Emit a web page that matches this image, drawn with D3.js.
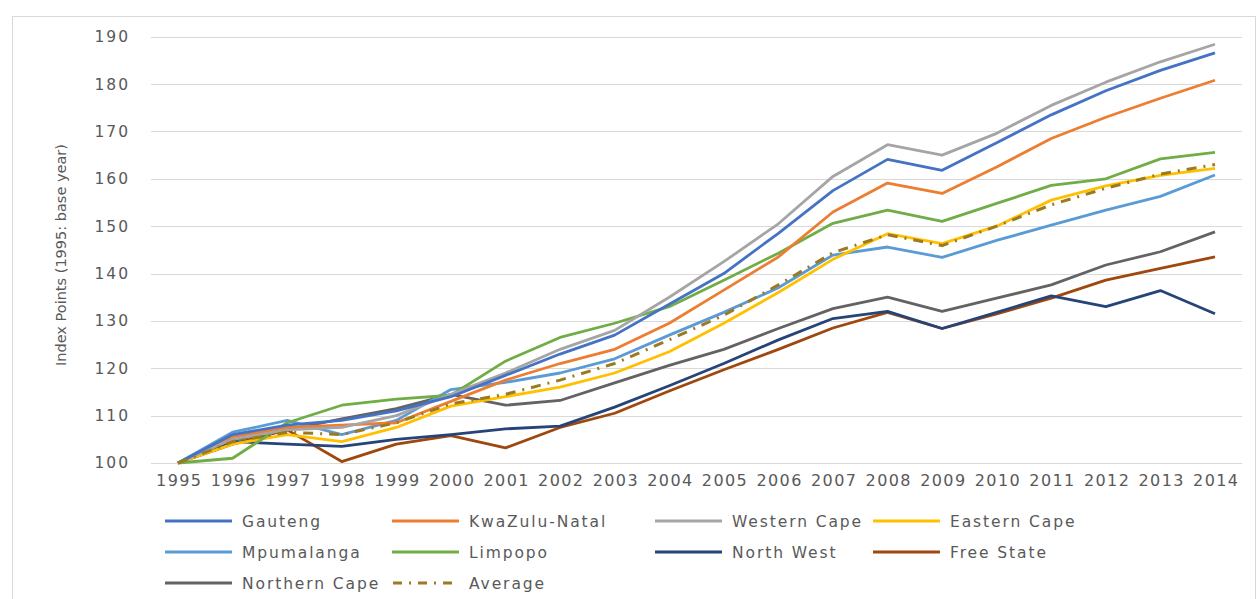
<!DOCTYPE html>
<html>
<head>
<meta charset="utf-8">
<script src="https://cdn.jsdelivr.net/npm/d3@7"></script>
<style>
  html, body { margin: 0; padding: 0; background: #ffffff; }
  svg { display: block; }
  text { font-family: "DejaVu Sans", sans-serif; fill: #595959; }
</style>
</head>
<body>
<svg id="chart" width="1260" height="599"></svg>
<script>
// Provincial index, 1995 = 100
const years = [1995, 1996, 1997, 1998, 1999, 2000, 2001, 2002, 2003, 2004,
               2005, 2006, 2007, 2008, 2009, 2010, 2011, 2012, 2013, 2014];
const yTicks = [100, 110, 120, 130, 140, 150, 160, 170, 180, 190];

const gauteng      = [100, 106, 108, 109, 111, 114, 118.5, 123, 127, 133.5, 140, 148.5, 157.5, 164.1, 161.8, 167.6, 173.5, 178.6, 182.9, 186.6];
const kwazuluNatal = [100, 105.5, 107.5, 108, 108.5, 113, 117.5, 121, 124, 129.5, 136.5, 143.5, 153, 159.1, 156.9, 162.5, 168.5, 173, 177, 180.8];
const westernCape  = [100, 105, 107, 107.5, 110, 114.5, 119, 124, 128, 135, 142.5, 150.5, 160.5, 167.2, 165, 169.6, 175.5, 180.4, 184.7, 188.4];
const easternCape  = [100, 104, 106, 104.5, 107.5, 112, 114, 116, 119, 123.5, 129.5, 136, 143, 148.4, 146.3, 150, 155.5, 158.5, 160.7, 162.2];
const mpumalanga   = [100, 106.5, 109, 106, 109, 115.5, 117, 119, 122, 127, 131.8, 137, 143.9, 145.6, 143.4, 147, 150.2, 153.4, 156.3, 160.8];
const limpopo      = [100, 101, 108.5, 112.2, 113.5, 114.3, 121.5, 126.5, 129.5, 133, 138.6, 144.3, 150.6, 153.4, 151, 154.8, 158.6, 160, 164.2, 165.6];
const northWest    = [100, 104.5, 104, 103.5, 105, 106, 107.2, 107.8, 111.8, 116.3, 121, 126, 130.5, 132, 128.4, 131.8, 135.3, 133, 136.4, 131.5];
const freeState    = [100, 104, 107, 100.3, 104, 105.8, 103.2, 107.5, 110.5, 115.2, 119.7, 124, 128.5, 131.8, 128.4, 131.5, 134.8, 138.6, 141.1, 143.5];
const northernCape = [100, 104.8, 107, 109.3, 111.5, 114.5, 112.2, 113.2, 116.9, 120.6, 124, 128.4, 132.6, 135, 132, 134.8, 137.6, 141.8, 144.6, 148.8];
const average      = [100, 104.5, 106.5, 106, 108.5, 112.5, 114.5, 117.5, 121, 126, 131.2, 137.6, 144.4, 148.2, 145.9, 150, 154.5, 158, 161, 163];

const seriesNames  = ["Gauteng", "KwaZulu-Natal", "Western Cape", "Eastern Cape",
                      "Mpumalanga", "Limpopo", "North West", "Free State",
                      "Northern Cape", "Average"];
const seriesValues = [gauteng, kwazuluNatal, westernCape, easternCape,
                      mpumalanga, limpopo, northWest, freeState,
                      northernCape, average];
const seriesColors = ["#4472C4", "#ED7D31", "#A5A5A5", "#FFC000",
                      "#5B9BD5", "#70AD47", "#264478", "#9E480E",
                      "#636363", "#9C7A1E"];

const svg = d3.select("#chart");

// chart frame
svg.append("rect")
  .attr("x", 12.5).attr("y", 16.5)
  .attr("width", 1243).attr("height", 600)
  .attr("fill", "none").attr("stroke", "#d9d9d9");

const plotLeft = 151, plotRight = 1242;
const x = d3.scalePoint().domain(years).range([178, 1215]);
const y = d3.scaleLinear().domain([100, 190]).range([463, 36.7]);

// horizontal gridlines
svg.append("g")
  .selectAll("line")
  .data(yTicks)
  .join("line")
  .attr("x1", plotLeft).attr("x2", plotRight)
  .attr("y1", d => Math.round(y(d)) + 0.5)
  .attr("y2", d => Math.round(y(d)) + 0.5)
  .attr("stroke", "#d9d9d9")
  .attr("stroke-width", 1.2);

// y axis labels
const yAxis = d3.axisLeft(y).tickValues(yTicks).tickSize(0).tickPadding(0);
const gy = svg.append("g").attr("transform", "translate(130,0)").call(yAxis);
gy.select(".domain").remove();
gy.selectAll("text")
  .attr("font-family", "DejaVu Sans, sans-serif")
  .attr("font-size", 15.5)
  .attr("letter-spacing", 2)
  .attr("fill", "#595959");

// x axis labels
const xAxis = d3.axisBottom(x).tickSize(0).tickPadding(0);
const gx = svg.append("g").attr("transform", "translate(0,475)").call(xAxis);
gx.select(".domain").remove();
gx.selectAll("text")
  .attr("font-family", "DejaVu Sans, sans-serif")
  .attr("font-size", 16)
  .attr("letter-spacing", 1.4)
  .attr("dx", 0.7)
  .attr("fill", "#595959");

// y axis title
svg.append("text")
  .attr("transform", "translate(66,255) rotate(-90)")
  .attr("text-anchor", "middle")
  .attr("font-family", "Liberation Sans Narrow, Liberation Sans, sans-serif")
  .attr("font-size", 14.5)
  .attr("fill", "#595959")
  .text("Index Points (1995: base year)");

// series lines
const line = d3.line()
  .x((d, i) => x(years[i]))
  .y(d => y(d));

const drawOrder = [8, 7, 6, 4, 3, 5, 1, 2, 0, 9];
svg.append("g")
  .selectAll("path")
  .data(drawOrder)
  .join("path")
  .attr("d", k => line(seriesValues[k]))
  .attr("fill", "none")
  .attr("stroke", k => seriesColors[k])
  .attr("stroke-width", k => k === 9 ? 3 : 2.8)
  .attr("stroke-linejoin", "round")
  .attr("stroke-dasharray", k => k === 9 ? "10 7 2 7" : null);

// legend
const legendCols = [165, 392, 655, 873];
const legendRows = [521, 552, 583];
const legend = svg.append("g")
  .selectAll("g")
  .data(seriesNames)
  .join("g")
  .attr("transform", (d, i) => `translate(${legendCols[i % 4]},${legendRows[Math.floor(i / 4)]})`);

legend.append("line")
  .attr("x1", 0).attr("x2", 67)
  .attr("y1", 0).attr("y2", 0)
  .attr("stroke", (d, i) => seriesColors[i])
  .attr("stroke-width", 3)
  .attr("stroke-dasharray", (d, i) => i === 9 ? "9 7 2 7" : null)
  .attr("stroke-dashoffset", (d, i) => i === 9 ? -1 : null);

legend.append("text")
  .attr("x", 77)
  .attr("y", 0)
  .attr("dy", "0.36em")
  .attr("font-size", 15.5)
  .attr("letter-spacing", 1.9)
  .text(d => d);
</script>
</body>
</html>
